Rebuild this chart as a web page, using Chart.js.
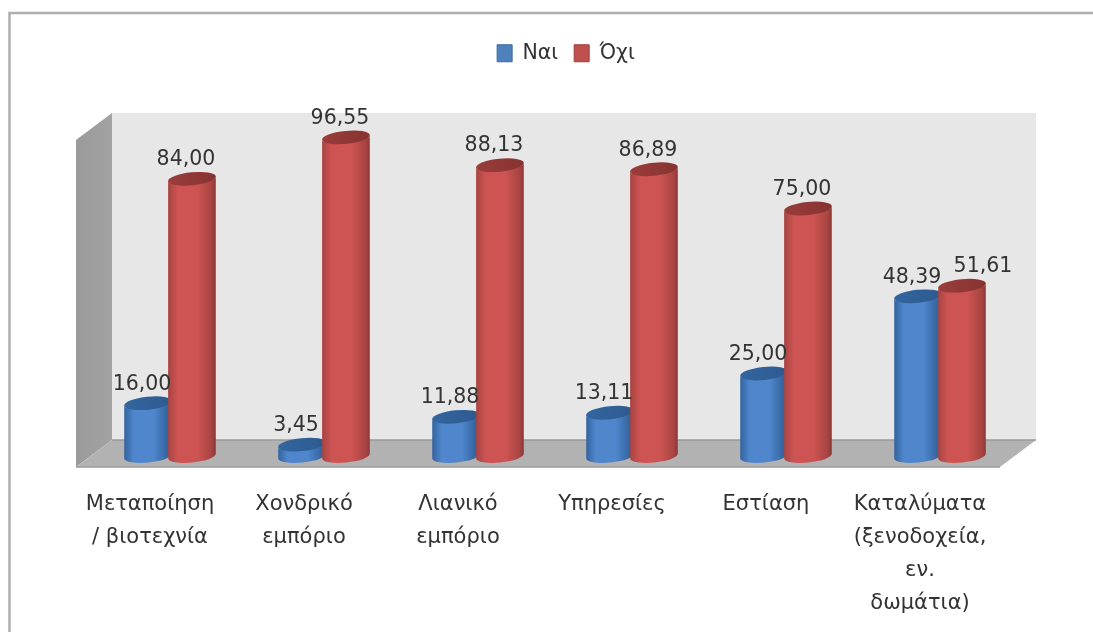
<!DOCTYPE html>
<html lang="en">
<head>
    <meta charset="UTF-8">
    <title>Ναι / Όχι</title>
    <script src="https://cdn.jsdelivr.net/npm/chart.js"></script>
    <style>
        html, body { margin: 0; padding: 0; background: #fff; }
        canvas { display: block; }
    </style>
</head>
<body>
<canvas id="chart" width="1093" height="632"></canvas>
<script>
  const categories = [
    ['Μεταποίηση', '/ βιοτεχνία'],
    ['Χονδρικό', 'εμπόριο'],
    ['Λιανικό', 'εμπόριο'],
    ['Υπηρεσίες'],
    ['Εστίαση'],
    ['Καταλύματα', '(ξενοδοχεία,', 'εν.', 'δωμάτια)']
  ];
  const naiValues = [16.00, 3.45, 11.88, 13.11, 25.00, 48.39];
  const ochiValues = [84.00, 96.55, 88.13, 86.89, 75.00, 51.61];

  const FONT = '"DejaVu Sans", sans-serif';
  const TEXT = '#333333';

  // depth of the fake 3D box, relative to the chart area
  const DEPTH_X = 36, DEPTH_Y = 27;
  const FRONT_LEFT = 17, FLOOR_DROP = 11, TOP_RISE = 13;

  const palettes = [
    { edge: '#33639e', mid: '#4f86cc', dark: '#2c5a92', cap: '#34659f', capDark: '#2d5a90' },
    { edge: '#a64442', mid: '#cd5452', dark: '#8a3634', cap: '#9a3d3b', capDark: '#873331' }
  ];

  function bodyGradient(ctx, x, w, p) {
    const g = ctx.createLinearGradient(x - w / 2, 0, x + w / 2, 0);
    g.addColorStop(0, p.edge);
    g.addColorStop(0.2, p.mid);
    g.addColorStop(0.62, p.mid);
    g.addColorStop(0.92, p.edge);
    g.addColorStop(1, p.dark);
    return g;
  }

  // background box: back wall, side wall, floor
  const boxPlugin = {
    id: 'box',
    beforeDraw(chart) {
      const { ctx, chartArea: a } = chart;
      const fl = a.left - FRONT_LEFT, fr = a.right - FRONT_LEFT;
      const fb = a.bottom + FLOOR_DROP, ft = a.top + DEPTH_Y - TOP_RISE;
      const bb = fb - DEPTH_Y, bt = ft - DEPTH_Y;
      ctx.save();
      // outer frame, open at the right and bottom of the picture
      ctx.strokeStyle = '#aeaeae';
      ctx.lineWidth = 2.5;
      ctx.strokeRect(9.5, 13, 1200, 800);
      // back wall
      ctx.fillStyle = '#e7e7e7';
      ctx.fillRect(fl + DEPTH_X, bt, fr - fl, bb - bt);
      // side wall
      const side = ctx.createLinearGradient(fl, 0, fl + DEPTH_X, 0);
      side.addColorStop(0, '#9a9a9a');
      side.addColorStop(1, '#a2a2a2');
      ctx.fillStyle = side;
      ctx.beginPath();
      ctx.moveTo(fl, ft); ctx.lineTo(fl + DEPTH_X, bt);
      ctx.lineTo(fl + DEPTH_X, bb); ctx.lineTo(fl, fb);
      ctx.closePath();
      ctx.fill();
      // floor
      ctx.fillStyle = '#b2b2b2';
      ctx.beginPath();
      ctx.moveTo(fl, fb); ctx.lineTo(fl + DEPTH_X, bb);
      ctx.lineTo(fr + DEPTH_X, bb); ctx.lineTo(fr, fb);
      ctx.closePath();
      ctx.fill();
      ctx.strokeStyle = '#9a9a9a';
      ctx.lineWidth = 1.5;
      ctx.beginPath();
      ctx.moveTo(fl + DEPTH_X, bb); ctx.lineTo(fr + DEPTH_X, bb);
      ctx.moveTo(fl, fb); ctx.lineTo(fr, fb);
      ctx.stroke();
      ctx.restore();
    }
  };

  // cylinders over the native bars, blue first so that red overlaps it
  const cylinderPlugin = {
    id: 'cylinder',
    afterDatasetsDraw(chart) {
      const { ctx } = chart;
      chart.data.datasets.forEach((ds, i) => {
        const p = palettes[i];
        chart.getDatasetMeta(i).data.forEach((bar) => {
          const w = bar.width + 4, rx = w / 2, ry = 6.5, tilt = -0.1;
          ctx.save();
          ctx.fillStyle = bodyGradient(ctx, bar.x, w, p);
          ctx.beginPath();
          ctx.ellipse(bar.x, bar.base, rx, ry, tilt, 0, Math.PI);
          ctx.ellipse(bar.x, bar.y, rx, ry, tilt, Math.PI, 0, true);
          ctx.closePath();
          ctx.fill();
          const cap = ctx.createLinearGradient(bar.x - rx, 0, bar.x + rx, 0);
          cap.addColorStop(0, p.cap);
          cap.addColorStop(1, p.capDark);
          ctx.fillStyle = cap;
          ctx.beginPath();
          ctx.ellipse(bar.x, bar.y, rx, ry, tilt, 0, Math.PI * 2);
          ctx.fill();
          ctx.restore();
        });
      });
    }
  };

  // value labels, comma decimals; the last red label sits to the right of its bar
  const valueLabelPlugin = {
    id: 'valueLabels',
    afterDatasetsDraw(chart) {
      const { ctx } = chart;
      ctx.save();
      ctx.font = '20.5px ' + FONT;
      ctx.fillStyle = TEXT;
      ctx.textAlign = 'center';
      ctx.textBaseline = 'middle';
      chart.data.datasets.forEach((ds, i) => {
        chart.getDatasetMeta(i).data.forEach((bar, j) => {
          const shift = (i === 1 && j === 5) ? 21 : -6;
          const text = ds.data[j].toFixed(2).replace('.', ',');
          ctx.fillText(text, bar.x + shift, bar.y - 19);
        });
      });
      ctx.restore();
    }
  };

  // legend sits higher and further right than its layout box
  const legendPlacePlugin = {
    id: 'legendPlace',
    afterLayout(chart) {
      chart.legend.left += 11;
      chart.legend.right += 11;
      chart.legend.top = 27;
    }
  };

  new Chart(document.getElementById('chart'), {
    type: 'bar',
    data: {
      labels: categories,
      datasets: [
        { label: 'Ναι', data: naiValues, backgroundColor: '#4f81bd', borderColor: '#3a6aa5', borderWidth: 1 },
        { label: 'Όχι', data: ochiValues, backgroundColor: '#c0504d', borderColor: '#a03e3b', borderWidth: 1 }
      ]
    },
    plugins: [boxPlugin, cylinderPlugin, valueLabelPlugin, legendPlacePlugin],
    options: {
      responsive: false,
      animation: false,
      layout: { padding: { left: 93, right: 76, top: 79.5, bottom: 0 } },
      datasets: { bar: { categoryPercentage: 0.57, barPercentage: 1 } },
      scales: {
        x: {
          grid: { display: false },
          border: { display: false },
          afterFit(scale) { scale.height = 176; },
          ticks: {
            color: TEXT,
            padding: 24,
            labelOffset: -20,
            maxRotation: 0,
            autoSkip: false,
            font: { family: FONT, size: 21, lineHeight: 1.57 }
          }
        },
        y: { display: false, min: 0, max: 100 }
      },
      plugins: {
        tooltip: { enabled: false },
        legend: {
          position: 'top',
          labels: {
            color: TEXT,
            boxWidth: 15,
            boxHeight: 17,
            padding: 16,
            font: { family: FONT, size: 20.5 }
          }
        }
      }
    }
  });
</script>
</body>
</html>
